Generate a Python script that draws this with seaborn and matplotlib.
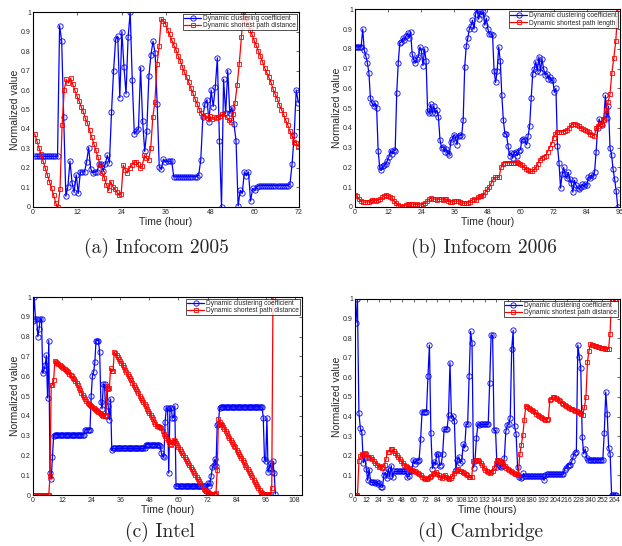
import numpy as np
import matplotlib
matplotlib.use("Agg")
import matplotlib.pyplot as plt
import seaborn as sns

sns.set_style("white")
plt.rcParams["font.family"] = ["Liberation Sans", "DejaVu Sans"]

# ---- (a) Infocom 2005 ----
a_clust = [0.26, 0.26, 0.26, 0.26, 0.26, 0.26, 0.26, 0.26, 0.26, 0.26, 0.26, 0.26,
           0.93, 0.85, 0.46, 0.055, 0.105, 0.235, 0.125, 0.075, 0.165, 0.07,
           0.18, 0.18, 0.18, 0.23, 0.305, 0.195, 0.175, 0.18, 0.18, 0.22,
           0.22, 0.185, 0.22, 0.265, 0.225, 0.485, 0.70, 0.86, 0.875, 0.56,
           0.90, 0.72, 0.58, 0.87, 1.0, 0.65, 0.375, 0.39, 0.40, 0.715,
           0.44, 0.285, 0.39, 0.67, 0.78, 0.85, 0.79, 0.53, 0.205, 0.195,
           0.245, 0.23, 0.235, 0.235, 0.235, 0.155,
           0.155, 0.155, 0.155, 0.155, 0.155, 0.155, 0.155, 0.155, 0.155, 0.155, 0.155,
           0.165, 0.24, 0.46, 0.53, 0.55, 0.435, 0.60, 0.515, 0.615, 0.765,
           0.34, 0.0, 0.655, 0.48, 0.70, 0.48, 0.51, 0.425, 0.34, 0.005,
           0.085, 0.07, 0.18, 0.16, 0.18, 0.03, 0.095, 0.085, 0.105, 0.11,
           0.11, 0.11, 0.11, 0.11, 0.11, 0.11, 0.11, 0.11, 0.11, 0.11, 0.11, 0.11, 0.11,
           0.11, 0.12, 0.22, 0.37, 0.60, 0.535]
a_path = [0.375, 0.34, 0.305, 0.27, 0.235, 0.20, 0.165, 0.13, 0.095, 0.06, 0.02, 0.0,
          0.09, 0.42, 0.60, 0.655, 0.635, 0.66, 0.63,
          0.60, 0.57, 0.545, 0.515, 0.49, 0.455, 0.43, 0.395, 0.36, 0.325, 0.29,
          0.255, 0.215, 0.175, 0.15, 0.115, 0.085, 0.13, 0.105, 0.09, 0.075, 0.06, 0.065,
          0.215, 0.19, 0.175, 0.20, 0.215, 0.23, 0.23, 0.22, 0.20, 0.21,
          0.265, 0.25, 0.24, 0.30, 0.46, 0.54, 0.735, 0.825, 0.965,
          0.955, 0.94, 0.91, 0.885, 0.855, 0.83, 0.805, 0.775, 0.75, 0.72,
          0.69, 0.665, 0.64, 0.61, 0.585, 0.555, 0.53, 0.50, 0.48, 0.465,
          0.47, 0.455, 0.465, 0.45, 0.46, 0.455, 0.46, 0.465, 0.475, 0.48,
          0.46, 0.445, 0.435, 0.475, 0.535, 0.625, 0.735, 0.87, 1.0,
          0.97, 0.94, 0.91, 0.885, 0.855, 0.83, 0.80, 0.775, 0.745, 0.715,
          0.69, 0.665, 0.64, 0.605, 0.58, 0.555, 0.525, 0.50, 0.475, 0.445,
          0.42, 0.39, 0.365, 0.335, 0.33, 0.31]

# ---- (b) Infocom 2006 ----
b_clust = [0.81, 0.81, 0.81, 0.81, 0.81, 0.90, 0.795, 0.765, 0.73, 0.68,
           0.55, 0.525, 0.51, 0.525, 0.50, 0.285, 0.20, 0.185, 0.205, 0.21,
           0.22, 0.235, 0.255, 0.285, 0.27, 0.29, 0.285, 0.575, 0.73, 0.83,
           0.835, 0.855, 0.845, 0.865, 0.88, 0.855, 0.885, 0.775, 0.745, 0.73,
           0.75, 0.76, 0.81, 0.79, 0.715, 0.80, 0.74, 0.485, 0.475, 0.52,
           0.475, 0.51, 0.475, 0.49, 0.455, 0.34, 0.30, 0.305, 0.28, 0.295,
           0.275, 0.265, 0.33, 0.345, 0.365, 0.355, 0.315, 0.36, 0.365, 0.36,
           0.44, 0.71, 0.815, 0.855, 0.90, 0.915, 0.945, 0.90, 0.975, 1.0,
           0.95, 0.99, 0.975, 0.985, 0.92, 0.955, 0.90, 0.875, 0.875, 0.87,
           0.69, 0.63, 0.69, 0.81, 0.74, 0.565, 0.44, 0.37, 0.37, 0.31,
           0.26, 0.275, 0.25, 0.275, 0.28, 0.26, 0.285, 0.29, 0.34, 0.345,
           0.34, 0.315, 0.36, 0.41, 0.55, 0.675, 0.70, 0.735, 0.69, 0.76,
           0.685, 0.75, 0.70, 0.67, 0.675, 0.65, 0.66, 0.64, 0.64, 0.58,
           0.60, 0.31, 0.225, 0.095, 0.165, 0.20, 0.165, 0.145, 0.175, 0.14,
           0.12, 0.075, 0.135, 0.11, 0.095, 0.09, 0.10, 0.115, 0.105, 0.115,
           0.11, 0.15, 0.145, 0.16, 0.155, 0.175, 0.28, 0.40, 0.445, 0.42,
           0.415, 0.445, 0.565, 0.45, 0.51, 0.30, 0.265, 0.19, 0.14, 0.08,
           0.0]
b_path = [0.06, 0.055, 0.04, 0.03, 0.025, 0.025, 0.025, 0.025, 0.03, 0.035,
          0.035, 0.03, 0.035, 0.04, 0.05, 0.055, 0.06, 0.055, 0.05, 0.045,
          0.03, 0.02, 0.01, 0.005, 0.0, 0.005, 0.01, 0.015, 0.015, 0.015,
          0.015, 0.01, 0.015, 0.01, 0.01, 0.015, 0.02, 0.03, 0.04, 0.045,
          0.04, 0.04, 0.035, 0.04, 0.04, 0.035, 0.04, 0.04, 0.03, 0.025,
          0.025, 0.03, 0.03, 0.03, 0.025, 0.02, 0.02, 0.02, 0.02, 0.025,
          0.035, 0.04, 0.035, 0.05, 0.055, 0.055, 0.06, 0.075, 0.09, 0.10,
          0.12, 0.14, 0.15, 0.15, 0.15, 0.20, 0.22, 0.225, 0.225, 0.225,
          0.225, 0.225, 0.225, 0.23, 0.225, 0.22, 0.21, 0.20, 0.19, 0.185,
          0.18, 0.18, 0.19, 0.20, 0.22, 0.24, 0.25, 0.255, 0.26, 0.28,
          0.30, 0.32, 0.35, 0.37, 0.38, 0.38, 0.38, 0.38, 0.385, 0.39,
          0.40, 0.415, 0.42, 0.42, 0.415, 0.41, 0.40, 0.395, 0.39, 0.385,
          0.38, 0.37, 0.365, 0.36, 0.40, 0.41, 0.42, 0.42, 0.44, 0.49,
          0.53, 0.57, 0.68, 0.755, 0.84, 1.0]

# ---- (c) Intel (half-hour samples) ----
c_clust = [0.88, 1.0, 0.89, 0.89, 0.80, 0.84, 0.89, 0.89, 0.615, 0.63,
           0.655, 0.705, 0.49, 0.78, 0.11, 0.08, 0.19, 0.30,
           0.305, 0.305, 0.305, 0.305, 0.305, 0.305, 0.305, 0.305, 0.305, 0.305,
           0.305, 0.305, 0.305, 0.305, 0.305, 0.305, 0.305, 0.305, 0.305, 0.305,
           0.305, 0.305, 0.305, 0.305, 0.305,
           0.33, 0.33, 0.33, 0.33, 0.33,
           0.50, 0.60, 0.62, 0.67, 0.78, 0.78, 0.78, 0.72, 0.47, 0.435,
           0.56, 0.56, 0.40, 0.54, 0.45, 0.38, 0.485, 0.225,
           0.235, 0.235, 0.235, 0.235, 0.235, 0.235, 0.235, 0.235, 0.235, 0.235,
           0.235, 0.235, 0.235, 0.235, 0.235, 0.235, 0.235, 0.235, 0.235, 0.235,
           0.235, 0.235, 0.235, 0.235, 0.235, 0.235, 0.235,
           0.255, 0.255, 0.255, 0.255, 0.255, 0.255, 0.255, 0.255, 0.255, 0.255,
           0.255, 0.255,
           0.245, 0.21, 0.195, 0.19, 0.37, 0.44, 0.44, 0.11, 0.44, 0.44,
           0.39, 0.39, 0.45,
           0.045, 0.045, 0.045, 0.045, 0.045, 0.045, 0.045, 0.045, 0.045, 0.045,
           0.045, 0.045, 0.045, 0.045, 0.045, 0.045, 0.045, 0.045, 0.045, 0.045,
           0.045, 0.045, 0.045, 0.045, 0.045,
           0.02, 0.06, 0.045, 0.06, 0.095, 0.14, 0.15, 0.18, 0.145, 0.355,
           0.36, 0.44,
           0.445, 0.445, 0.445, 0.445, 0.445, 0.445, 0.445, 0.445, 0.445, 0.445,
           0.445, 0.445, 0.445, 0.445, 0.445, 0.445, 0.445, 0.445, 0.445, 0.445,
           0.445, 0.445, 0.445, 0.445, 0.445, 0.445, 0.445, 0.445, 0.445, 0.445,
           0.445, 0.445, 0.445, 0.445, 0.445,
           0.39, 0.18, 0.17, 0.39, 0.115, 0.135, 0.16, 0.115, 0.17, 0.11, 0.005]
c_path = [0.0, 0.0, 0.0, 0.0, 0.0, 0.0, 0.0, 0.0, 0.0, 0.0, 0.0, 0.0, 0.0, 0.0,
          0.095, 0.555, 0.555, 0.58, 0.675,
          0.67, 0.665, 0.66, 0.655, 0.65, 0.645, 0.64, 0.635, 0.63, 0.625,
          0.62, 0.61, 0.605, 0.60, 0.59, 0.585, 0.575, 0.565, 0.555, 0.54,
          0.53, 0.515, 0.505, 0.495, 0.485, 0.475, 0.465, 0.46, 0.455, 0.45,
          0.445, 0.44, 0.435, 0.43, 0.425, 0.42, 0.415, 0.41, 0.405, 0.40,
          0.40, 0.405,
          0.55, 0.535, 0.54, 0.64, 0.625, 0.625, 0.72,
          0.715, 0.705, 0.695, 0.685, 0.675, 0.665, 0.655, 0.645, 0.63, 0.62,
          0.61, 0.60, 0.59, 0.58, 0.565, 0.555, 0.545, 0.535, 0.525, 0.515,
          0.50, 0.49, 0.48, 0.47, 0.46, 0.45, 0.435, 0.425, 0.415, 0.405,
          0.395, 0.385, 0.37, 0.36, 0.35, 0.35, 0.345, 0.345, 0.34, 0.325,
          0.31, 0.30, 0.29, 0.28, 0.27, 0.26, 0.255, 0.27, 0.28, 0.275,
          0.265, 0.255, 0.24, 0.23, 0.22, 0.21, 0.20, 0.19, 0.18, 0.17,
          0.16, 0.15, 0.14, 0.13, 0.12, 0.11, 0.10, 0.09, 0.08, 0.07,
          0.06, 0.05, 0.04, 0.03, 0.025, 0.02, 0.015, 0.01, 0.005,
          0.005, 0.005, 0.005, 0.005, 0.01,
          0.125, 0.385, 0.37, 0.36,
          0.355, 0.345, 0.335, 0.325, 0.315, 0.30, 0.29, 0.28, 0.27, 0.26,
          0.25, 0.24, 0.225, 0.215, 0.205, 0.195, 0.185, 0.175, 0.165, 0.15,
          0.14, 0.13, 0.12, 0.11, 0.10, 0.09, 0.075, 0.065, 0.055, 0.045,
          0.035, 0.025, 0.015, 0.01,
          0.005, 0.005, 0.005, 0.005, 0.005, 0.005, 0.005,
          0.035, 1.0]

# ---- (d) Cambridge ----
d_clust = [0.88, 1.0, 0.42, 0.34, 0.32, 0.165, 0.19, 0.135, 0.075, 0.13,
           0.065, 0.065, 0.065, 0.06, 0.065, 0.055, 0.06, 0.04, 0.04, 0.10,
           0.115, 0.085, 0.135, 0.095, 0.15, 0.09, 0.12, 0.12, 0.12, 0.12,
           0.12, 0.12, 0.12, 0.12, 0.12, 0.09, 0.095, 0.12, 0.12, 0.18,
           0.16, 0.175, 0.175, 0.18, 0.285, 0.425, 0.425, 0.425, 0.425, 0.605,
           0.765, 0.315, 0.135, 0.17, 0.155, 0.21, 0.21, 0.15, 0.155, 0.21,
           0.335, 0.335, 0.335, 0.41, 0.675, 0.395, 0.405, 0.375, 0.13, 0.18,
           0.195, 0.165, 0.175, 0.26, 0.24, 0.36, 0.36, 0.605, 0.835, 0.775,
           0.14, 0.175, 0.29, 0.36, 0.355, 0.36, 0.36, 0.36, 0.36, 0.36,
           0.36, 0.57, 0.815, 0.815, 0.33, 0.33, 0.145, 0.155, 0.15, 0.145,
           0.15, 0.19, 0.325, 0.355, 0.36, 0.395, 0.745, 0.84, 0.35, 0.31,
           0.145, 0.09, 0.085, 0.09, 0.11, 0.095, 0.095, 0.095, 0.095, 0.095,
           0.095, 0.095, 0.095, 0.095, 0.095, 0.095, 0.095, 0.095, 0.075, 0.10,
           0.105, 0.105, 0.105, 0.105, 0.105, 0.105, 0.105, 0.105, 0.105, 0.105,
           0.105, 0.105, 0.13, 0.14, 0.15, 0.155, 0.155, 0.175, 0.20, 0.215,
           0.22, 0.765, 0.705, 0.65, 0.295, 0.21, 0.235, 0.19, 0.18, 0.18,
           0.18, 0.18, 0.18, 0.18, 0.18, 0.18, 0.18, 0.18, 0.18, 0.315,
           0.525, 0.415, 0.24, 0.21, 0.0, 0.0, 0.0, 0.0]
d_path = [0.0, 0.0, 0.175, 0.20, 0.21, 0.205, 0.215, 0.21, 0.195,
          0.19, 0.195, 0.185, 0.175, 0.165, 0.155, 0.145, 0.15, 0.14, 0.145,
          0.155, 0.185, 0.22, 0.22, 0.235, 0.235, 0.225, 0.215, 0.205, 0.195,
          0.185, 0.175, 0.165, 0.155, 0.15, 0.145, 0.14, 0.135, 0.13, 0.125,
          0.12, 0.115, 0.11, 0.105, 0.10, 0.09, 0.085, 0.08, 0.08, 0.085,
          0.09, 0.095, 0.105, 0.11, 0.115, 0.105, 0.10, 0.09, 0.085, 0.095,
          0.10, 0.09, 0.085, 0.08, 0.085, 0.095, 0.11, 0.12, 0.13, 0.135,
          0.125, 0.12, 0.115, 0.11, 0.105, 0.10, 0.09, 0.09,
          0.09, 0.175, 0.175, 0.18, 0.18, 0.175, 0.165, 0.155, 0.14, 0.13,
          0.12, 0.115, 0.11, 0.115, 0.125, 0.14, 0.165, 0.18, 0.18, 0.175,
          0.17, 0.16, 0.15, 0.14, 0.135, 0.13, 0.12, 0.115, 0.11, 0.105,
          0.105, 0.10, 0.21, 0.255, 0.305, 0.385, 0.455, 0.45, 0.445, 0.44,
          0.435, 0.43, 0.425, 0.415, 0.41, 0.405, 0.40, 0.395, 0.39, 0.385,
          0.385, 0.39, 0.485, 0.49, 0.50, 0.50, 0.495, 0.49, 0.485, 0.48,
          0.47, 0.465, 0.46, 0.455, 0.45, 0.445, 0.44, 0.44, 0.435,
          0.43, 0.43, 0.425, 0.42, 0.415, 0.41, 0.45, 0.50, 0.68, 0.735,
          0.77, 0.765, 0.765, 0.76, 0.76, 0.755, 0.755, 0.75, 0.75, 0.75,
          0.745, 0.745, 0.745, 0.82, 1.0, 1.0, 1.0, 1.0]

ytick_vals = [0, 0.1, 0.2, 0.3, 0.4, 0.5, 0.6, 0.7, 0.8, 0.9, 1]
ytick_labels = ["0", "0.1", "0.2", "0.3", "0.4", "0.5", "0.6", "0.7", "0.8", "0.9", "1"]
clust_label = "Dynamic clustering coefficient"
captions = ["(a) Infocom 2005", "(b) Infocom 2006", "(c) Intel", "(d) Cambridge"]


def draw(ax, t1, y1, t2, y2, xmax, xticks, path_label, xlabel):
    sns.lineplot(x=t1, y=y1, ax=ax, color="blue", marker="o", markersize=3.8,
                 markeredgecolor="blue", markeredgewidth=0.6, linewidth=0.9,
                 label=clust_label, sort=False, estimator=None)
    sns.lineplot(x=t2, y=y2, ax=ax, color="red", marker="s", markersize=3.3,
                 markeredgecolor="red", markeredgewidth=0.6, linewidth=0.9,
                 label=path_label, sort=False, estimator=None)
    # open markers, edge in the line colour
    for ln in ax.lines:
        ln.set_markerfacecolor("none")
        ln.set_markeredgecolor(ln.get_color())
    ax.set_xlim(0, xmax)
    ax.set_ylim(0, 1)
    ax.set_xticks(xticks)
    ax.set_yticks(ytick_vals)
    ax.set_yticklabels(ytick_labels)
    ax.tick_params(direction="in", top=True, right=True, length=2.5, width=0.5,
                   labelsize=5, pad=1.5)
    for s in ax.spines.values():
        s.set_color("black")
        s.set_linewidth(0.8)
    ax.set_xlabel(xlabel, fontsize=7.5, labelpad=0.5)
    ax.set_ylabel("Normalized value", fontsize=7.5, labelpad=1)
    leg = ax.legend(loc="upper right", fontsize=4.8, frameon=True, fancybox=False,
                    edgecolor="black", borderaxespad=0.3, borderpad=0.15,
                    labelspacing=0.05, handlelength=2.6, handletextpad=0.3)
    leg.get_frame().set_linewidth(0.6)
    for h in leg.get_lines():
        h.set_markerfacecolor("none")
        h.set_markeredgecolor(h.get_color())


fig = plt.figure(figsize=(6.22, 5.46), dpi=100)
ax_a = fig.add_axes([0.0531, 0.6209, 0.4277, 0.3571])
ax_b = fig.add_axes([0.5707, 0.6209, 0.4260, 0.3620])
ax_c = fig.add_axes([0.0531, 0.0934, 0.4325, 0.3626])
ax_d = fig.add_axes([0.5707, 0.0934, 0.4260, 0.3590])

draw(ax_a, np.linspace(0.45, 71.8, len(a_clust)), a_clust,
     np.linspace(0.45, 71.8, len(a_path)), a_path,
     72, range(0, 73, 12), "Dynamic shortest path distance", "Time (hour)")
draw(ax_b, np.linspace(0, 95.2, len(b_clust)), b_clust,
     np.linspace(0, 95.2, len(b_path)), b_path,
     96, range(0, 97, 12), "Dynamic shortest path length", "Time (hour)")
draw(ax_c, np.arange(len(c_clust)) * 0.5, c_clust,
     np.arange(len(c_path)) * 0.5, c_path,
     111, range(0, 109, 12), "Dynamic shortest path distance", "Time (hour)")
draw(ax_d, np.linspace(1, 266, len(d_clust)), d_clust,
     np.linspace(1, 266, len(d_path)), d_path,
     270, range(0, 265, 12), "Dynamic shortest path distance", "Time (hours)")

cap_pos = [(0.2516, 0.5458), (0.778, 0.5458), (0.257, 0.0256), (0.772, 0.0256)]
for (cx, cy), txt in zip(cap_pos, captions):
    fig.text(cx, cy, txt, ha="center", va="center", fontsize=14, family="cmr10")

fig.savefig("out.png", dpi=100)
